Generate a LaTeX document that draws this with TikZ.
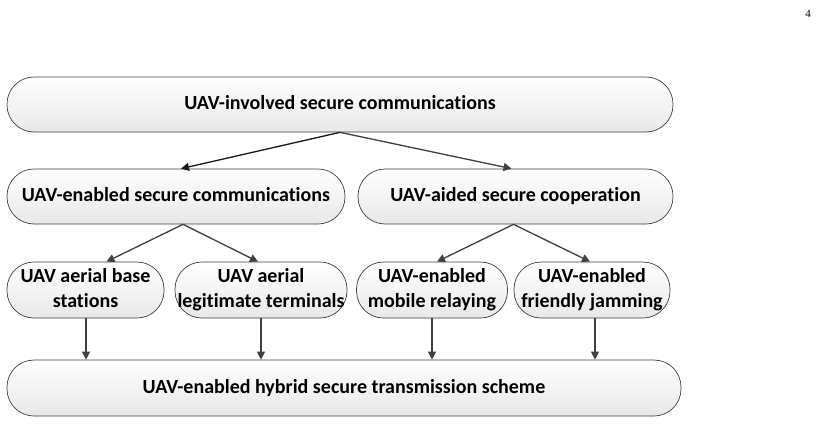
\documentclass[tikz,border=0pt]{standalone}
\usepackage{fontspec}
\setmainfont{Carlito}[Ligatures=NoCommon]
\newfontfamily\pagefont{Liberation Serif}
\usetikzlibrary{arrows.meta,shadings}
\tikzset{
  box/.style={draw=black!75, line width=0.7pt, top color=white, bottom color=black!9,
    shading angle=0, inner sep=0pt, align=center,
    font=\fontsize{20}{25}\selectfont\bfseries},
  arr/.style={draw=black!75, line width=1.3pt, -{Triangle[length=8pt,width=8pt]}},
}
\begin{document}
\begin{tikzpicture}[x=1pt,y=-1pt]
\useasboundingbox (0,0) rectangle (819,423);
\node[font=\pagefont\fontsize{11}{13}\selectfont] (pg) at (808,14) {4};
\node[box, minimum width=666pt, minimum height=55pt, rounded corners=27pt] (top) at (340,104.5) {\strut UAV-involved secure communications};
\node[box, minimum width=338pt, minimum height=55pt, rounded corners=27pt] (l2a) at (176,196.5) {\strut UAV-enabled secure communications};
\node[box, minimum width=315pt, minimum height=55pt, rounded corners=27pt] (l2b) at (515.5,196.5) {\strut UAV-aided secure cooperation};
\node[box, minimum width=157pt, minimum height=56pt, rounded corners=27pt] (l3a) at (85.5,290) {\strut UAV aerial base\\\strut stations};
\node[box, minimum width=172pt, minimum height=56pt, rounded corners=27pt] (l3b) at (261,290) {\strut UAV aerial\\\strut legitimate terminals};
\node[box, minimum width=151pt, minimum height=56pt, rounded corners=27pt] (l3c) at (432,290) {\strut UAV-enabled\\\strut mobile relaying};
\node[box, minimum width=156pt, minimum height=56pt, rounded corners=27pt] (l3d) at (592,290) {\strut UAV-enabled\\\strut friendly jamming};
\node[box, minimum width=674pt, minimum height=56pt, rounded corners=27pt] (bot) at (344,388) {\strut UAV-enabled hybrid secure transmission scheme};
\draw[arr, draw=black!90] (top.south) -- ([xshift=5pt]l2a.north);
\draw[arr] (top.south) -- ([xshift=-4pt]l2b.north);
\draw[arr] ([xshift=7pt]l2a.south) -- ([xshift=21pt]l3a.north);
\draw[arr] ([xshift=7pt]l2a.south) -- ([xshift=-3pt]l3b.north);
\draw[arr] ([xshift=-2pt]l2b.south) -- ([xshift=5pt]l3c.north);
\draw[arr] ([xshift=-2pt]l2b.south) -- ([xshift=-2pt]l3d.north);
\draw[arr] ([xshift=0.5pt]l3a.south) -- ([xshift=0.5pt]l3a.south |- bot.north);
\draw[arr] (l3b.south) -- (l3b.south |- bot.north);
\draw[arr] (l3c.south) -- (l3c.south |- bot.north);
\draw[arr] ([xshift=3pt]l3d.south) -- ([xshift=3pt]l3d.south |- bot.north);
\end{tikzpicture}
\end{document}
